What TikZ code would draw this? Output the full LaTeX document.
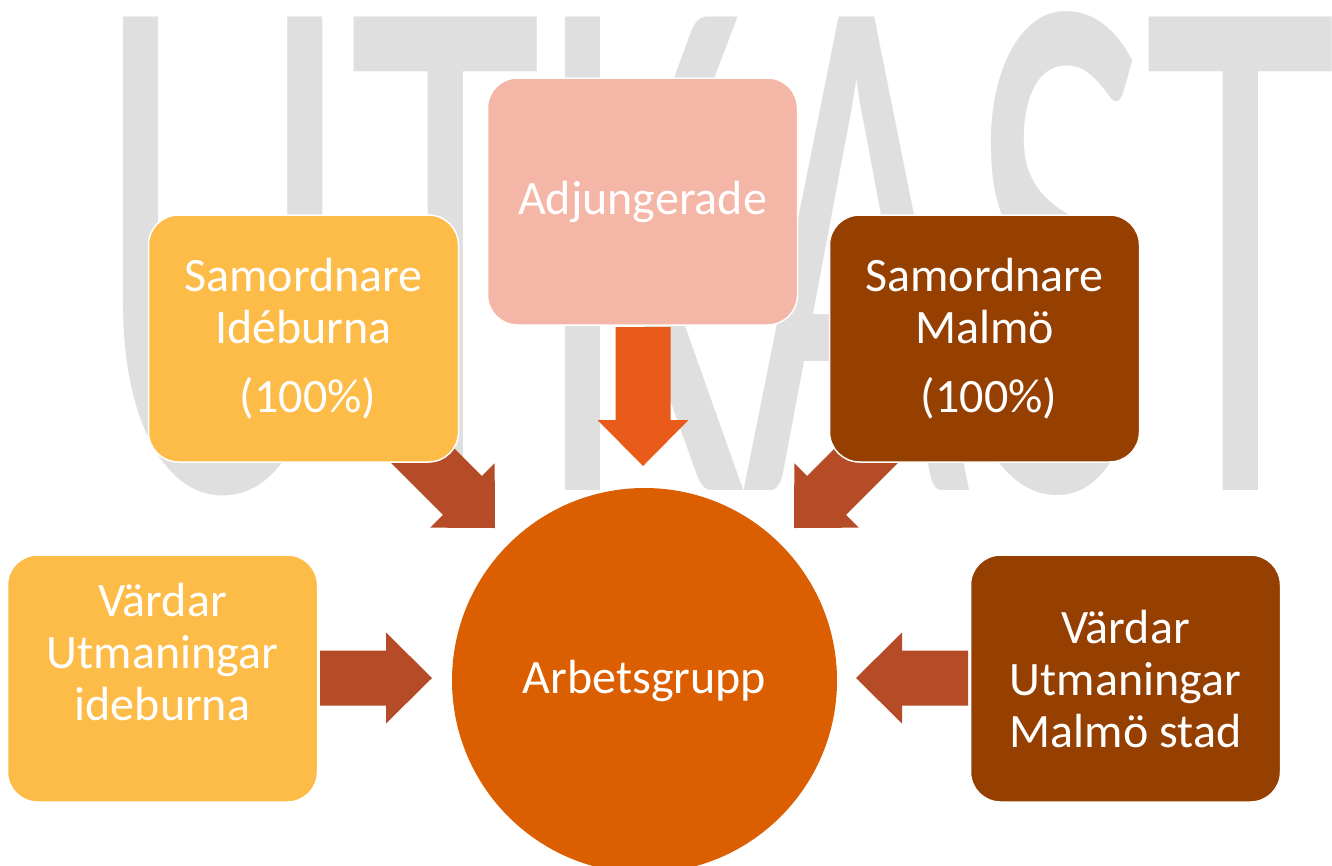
\documentclass[tikz,border=0pt]{standalone}
\usepackage{fontspec}
\setmainfont{Carlito}
\definecolor{wmgray}{HTML}{DFDFDF}
\definecolor{gold}{HTML}{FDBB48}
\definecolor{salmon}{HTML}{F4B6A6}
\definecolor{brown}{HTML}{953F00}
\definecolor{circ}{HTML}{DB5E00}
\definecolor{arrowred}{HTML}{B64B28}
\definecolor{arroworange}{HTML}{E85B1A}
\newcommand\blockarrow[4]{% tip, rotation, length, colour
  \fill[#4, shift={(#1)}, rotate=#2] (-#3,-27.5) -- (-46,-27.5) -- (-46,-45.5) -- (0,0) -- (-46,45.5) -- (-46,27.5) -- (-#3,27.5) -- cycle;}
\begin{document}
\begin{tikzpicture}[x=1pt,y=-1pt,
  box/.style={draw=white, line width=1.5pt, rounded corners=30pt, minimum width=310pt, minimum height=247pt, text=white, align=center, font=\fontsize{48}{52}\selectfont, inner sep=0pt},
  hub/.style={circle, fill=circ, minimum size=385pt, inner sep=0pt, text=white, font=\fontsize{48}{52}\selectfont}]
\useasboundingbox (0,0) rectangle (1332,865);
\clip (0,0) rectangle (1332,865);
\fill[white] (0,0) rectangle (1332,865);
% watermark
\node[anchor=base west, inner sep=0pt, text=wmgray, font=\fontsize{738}{738}\selectfont] (wm) at (96,490) {\scalebox{0.535}[1]{UTK\kern-10pt AS\kern-14pt T}};
% block arrows
\coordinate (tipR) at (432,678);
\coordinate (tipL) at (856,678);
\coordinate (tipD) at (643,466);
\coordinate (tipSE) at (495,528);
\coordinate (tipSW) at (794,528);
\blockarrow{tipR}{0}{112}{arrowred}
\blockarrow{tipL}{180}{112}{arrowred}
\blockarrow{tipD}{-90}{139}{arroworange}
\blockarrow{tipSE}{-45}{130}{arrowred}
\blockarrow{tipSW}{-135}{130}{arrowred}
% boxes
\node[box, fill=salmon] (adj) at (642.5,201.5) {\raisebox{-3pt}{Adjungerade}};
\node[box, fill=gold] (si) at (303.5,338.5) {Samordnare\\Idéburna\\[17pt]\hspace*{9pt}(100\%)};
\node[box, fill=brown] (sm) at (984.5,338.5) {Samordnare\\Malmö\\[17pt]\hspace*{9pt}(100\%)};
\node[box, fill=gold] (vi) at (162.5,678.5) {Värdar\\Utmaningar\\ideburna\\[2pt]\mbox{}};
\node[box, fill=brown] (vm) at (1125.5,678.5) {Värdar\\Utmaningar\\Malmö stad};
\node[hub] (arb) at (644.5,680.5) {\raisebox{-3pt}{Arbetsgrupp}};
\end{tikzpicture}
\end{document}
